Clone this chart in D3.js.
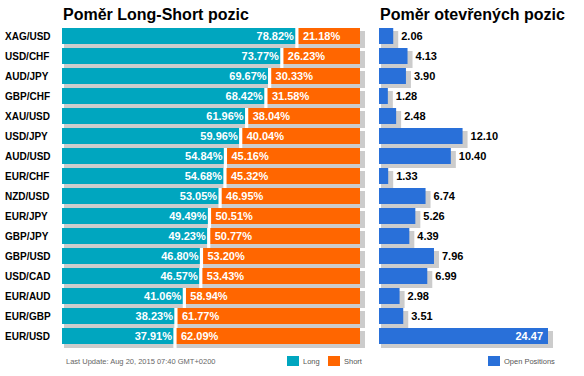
<!DOCTYPE html>
<html>
<head>
<meta charset="utf-8">
<script src="https://cdn.jsdelivr.net/npm/d3@7"></script>
<style>
body { margin: 0; background: #fff; }
text { font-family: Arial, "Liberation Sans", sans-serif; }
</style>
</head>
<body>
<div id="chart-area"></div>
<script>
var pairs = ["XAG/USD","USD/CHF","AUD/JPY","GBP/CHF","XAU/USD","USD/JPY","AUD/USD","EUR/CHF",
             "NZD/USD","EUR/JPY","GBP/JPY","GBP/USD","USD/CAD","EUR/AUD","EUR/GBP","EUR/USD"];
var longPct = [78.82,73.77,69.67,68.42,61.96,59.96,54.84,54.68,53.05,49.49,49.23,46.80,46.57,41.06,38.23,37.91];
var shortPct = [21.18,26.23,30.33,31.58,38.04,40.04,45.16,45.32,46.95,50.51,50.77,53.20,53.43,58.94,61.77,62.09];
var openPos = [2.06,4.13,3.90,1.28,2.48,12.10,10.40,1.33,6.74,5.26,4.39,7.96,6.99,2.98,3.51,24.47];

var teal = "#00a6bf", orange = "#ff6600", blue = "#2970d9", shade = "#cccccc";

var width = 584, height = 376;

var svg = d3.select("#chart-area").append("svg")
            .attr("width", width)
            .attr("height", height);

var data = pairs.map(function(p, i){
	return {pair: p, long: longPct[i], short: shortPct[i], open: openPos[i]};
});

var yscale = d3.scaleBand()
               .domain(pairs)
               .range([26, 346])
               .paddingInner(0.2)
               .paddingOuter(0.1);
var bh = yscale.bandwidth();

var xscale = d3.scaleLinear()
               .domain([0, 100])
               .range([62, 360]);

var oscale = d3.scaleLinear()
               .domain([0, d3.max(openPos)])
               .range([0, 169]);
var ox = 379;

// titles
svg.append("text")
   .attr("x", 63).attr("y", 20)
   .style("font-size", "16px").style("font-weight", "bold")
   .text("Poměr Long-Short pozic");

svg.append("text")
   .attr("x", 380).attr("y", 20)
   .style("font-size", "16px").style("font-weight", "bold")
   .text("Poměr otevřených pozic");

// pair labels
svg.selectAll(".pair").data(data).enter()
   .append("text")
   .attr("class", "pair")
   .attr("x", 5)
   .attr("y", function(d){ return yscale(d.pair) + bh/2; })
   .attr("dy", "0.36em")
   .style("font-size", "10px").style("font-weight", "bold")
   .text(function(d){ return d.pair; });

// long/short bars
var rows = svg.selectAll(".row").data(data).enter()
   .append("g").attr("class", "row")
   .attr("transform", function(d){ return "translate(0," + yscale(d.pair) + ")"; });

rows.append("rect")
    .attr("x", xscale(0) + 2).attr("y", 3)
    .attr("width", xscale(100) - xscale(0) + 3).attr("height", bh + 1)
    .attr("fill", shade);

rows.append("rect")
    .attr("x", xscale(0)).attr("y", 0)
    .attr("width", function(d){ return xscale(d.long) - xscale(0); })
    .attr("height", bh)
    .attr("fill", teal);

rows.append("rect")
    .attr("x", function(d){ return xscale(d.long); }).attr("y", 0)
    .attr("width", function(d){ return xscale(100) - xscale(d.long); })
    .attr("height", bh)
    .attr("fill", orange);

rows.append("rect")
    .attr("x", function(d){ return xscale(d.long) - 1.6; }).attr("y", 0)
    .attr("width", 3.2)
    .attr("height", bh + 4)
    .attr("fill", "#fff");

rows.append("text")
    .attr("x", function(d){ return xscale(d.long) - 3; })
    .attr("y", bh/2).attr("dy", "0.36em")
    .attr("text-anchor", "end")
    .attr("fill", "#fff")
    .style("font-size", "11px").style("font-weight", "bold")
    .text(function(d){ return d.long.toFixed(2) + "%"; });

rows.append("text")
    .attr("x", function(d){ return xscale(d.long) + 6; })
    .attr("y", bh/2).attr("dy", "0.36em")
    .attr("fill", "#fff")
    .style("font-size", "11px").style("font-weight", "bold")
    .text(function(d){ return d.short.toFixed(2) + "%"; });

// open positions
rows.append("rect")
    .attr("x", ox + 2).attr("y", 3)
    .attr("width", function(d){ return oscale(d.open) + 3; })
    .attr("height", bh + 1)
    .attr("fill", shade);

rows.append("rect")
    .attr("x", ox).attr("y", 0)
    .attr("width", function(d){ return oscale(d.open); })
    .attr("height", bh)
    .attr("fill", blue);

var maxOpen = d3.max(openPos);
rows.append("text")
    .attr("x", function(d){
    	if (d.open == maxOpen) {
    		return ox + oscale(d.open) - 5;
    	}
    	return ox + oscale(d.open) + 8;
    })
    .attr("y", bh/2).attr("dy", "0.36em")
    .attr("text-anchor", function(d){ return d.open == maxOpen ? "end" : "start"; })
    .attr("fill", function(d){ return d.open == maxOpen ? "#fff" : "#000"; })
    .style("font-size", "11px").style("font-weight", "bold")
    .text(function(d){ return d.open.toFixed(2); });

// footer + legend
svg.append("text")
   .attr("x", 66).attr("y", 364)
   .attr("fill", "#666")
   .style("font-size", "7.5px")
   .text("Last Update: Aug 20, 2015 07:40 GMT+0200");

var legend = [
	{label: "Long", color: teal, x: 287},
	{label: "Short", color: orange, x: 328},
	{label: "Open Positions", color: blue, x: 488}
];

var lg = svg.selectAll(".legend").data(legend).enter()
   .append("g").attr("class", "legend")
   .attr("transform", function(d){ return "translate(" + d.x + ",356)"; });

lg.append("rect")
  .attr("width", 12).attr("height", 10)
  .attr("fill", function(d){ return d.color; });

lg.append("text")
  .attr("x", 16).attr("y", 8)
  .attr("fill", "#555")
  .style("font-size", "7.5px")
  .text(function(d){ return d.label; });
</script>
</body>
</html>
